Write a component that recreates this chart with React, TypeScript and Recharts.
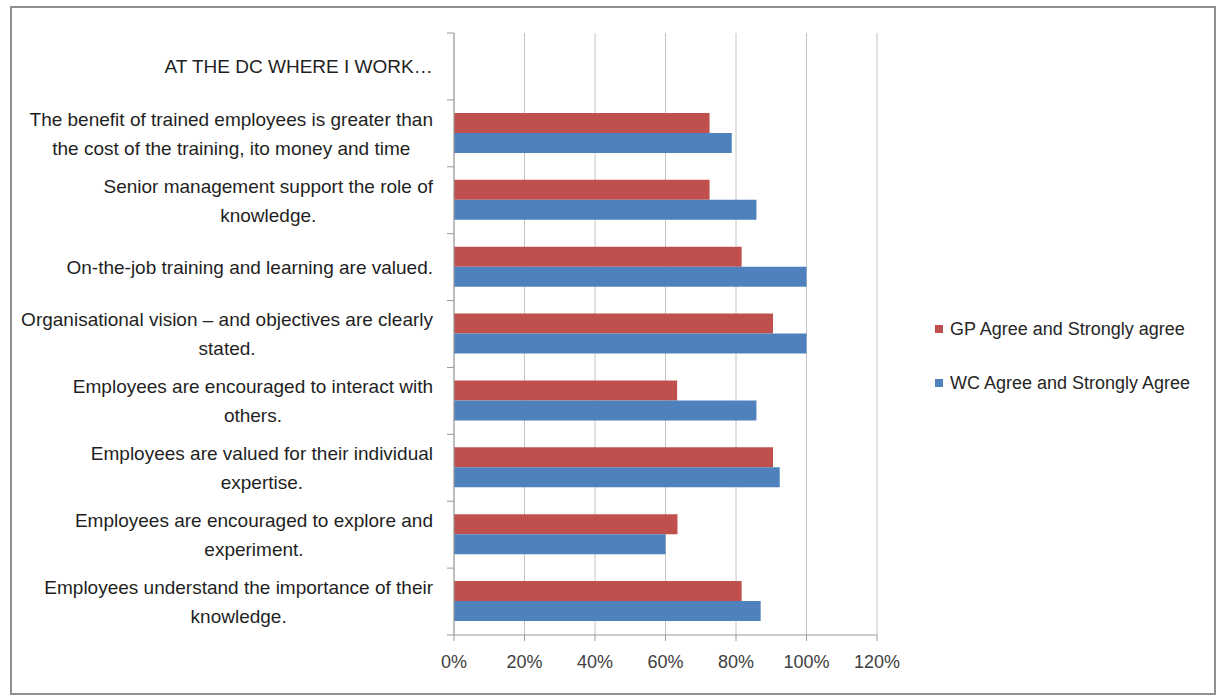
import React from 'react';
import { BarChart, Bar, XAxis, YAxis, CartesianGrid, Legend } from 'recharts';

// categories top to bottom, first row is only a heading (no bars)
const categories = [
  'AT THE DC WHERE I WORK…',
  'The benefit of trained employees is greater than\nthe cost of the training, ito money and time',
  'Senior management support the role of\nknowledge.',
  'On-the-job training and learning are valued.',
  'Organisational vision – and objectives are clearly\nstated.',
  'Employees are encouraged to interact with\nothers.',
  'Employees are valued for their individual\nexpertise.',
  'Employees are encouraged to explore and\nexperiment.',
  'Employees understand the importance of their\nknowledge.',
];

const gpValues = [null, 72.5, 72.5, 81.6, 90.5, 63.3, 90.5, 63.4, 81.6];
const wcValues = [null, 78.8, 85.8, 100, 100, 85.8, 92.4, 60, 87];

const seriesNames = ['GP Agree and Strongly agree', 'WC Agree and Strongly Agree'];
const seriesColors = ['#c0504d', '#4f81bd'];
const xTicks = [0, 20, 40, 60, 80, 100, 120];

const data = categories.map((name, i) => ({ name, gp: gpValues[i], wc: wcValues[i] }));

const FONT = '"Liberation Sans", Arial, sans-serif';
const LABEL_SIZE = 19;
const AXIS_X = 454;
const LABEL_RIGHT = 433;
const PLOT_TOP = 33;
const PLOT_BOTTOM = 635;
const BAND = (PLOT_BOTTOM - PLOT_TOP) / categories.length;

let ctx: CanvasRenderingContext2D | null = null;
function textWidth(t: string) {
  if (!ctx) ctx = document.createElement('canvas').getContext('2d');
  if (!ctx) return t.length * 9;
  ctx.font = `${LABEL_SIZE}px ${FONT}`;
  return ctx.measureText(t).width;
}

const CategoryTick = ({ y, payload, index }: any) => {
  const lines = String(payload.value).split('\n');
  const w = Math.max(...lines.map(textWidth));
  const cx = LABEL_RIGHT - w / 2;
  return (
    <g>
      {index === 0 && (
        <line x1={AXIS_X - 7} x2={AXIS_X} y1={y - BAND / 2} y2={y - BAND / 2} stroke="#9a9a9a" />
      )}
      <line x1={AXIS_X - 7} x2={AXIS_X} y1={y + BAND / 2} y2={y + BAND / 2} stroke="#9a9a9a" />
      <text textAnchor="middle" fontFamily={FONT} fontSize={LABEL_SIZE} fill="#1f1f1f">
        {lines.map((l, i) => (
          <tspan key={i} x={cx} y={y + (i - (lines.length - 1) / 2) * 29} dy="0.36em">
            {l}
          </tspan>
        ))}
      </text>
    </g>
  );
};

const LegendContent = () => (
  <div>
    {seriesNames.map((n, i) => (
      <div key={n} style={{ display: 'flex', alignItems: 'center', height: 54 }}>
        <span style={{ width: 8, height: 8, background: seriesColors[i], marginRight: 7 }} />
        <span style={{ fontFamily: FONT, fontSize: 18, color: '#262626', whiteSpace: 'nowrap' }}>{n}</span>
      </div>
    ))}
  </div>
);

export default function App() {
  return (
    <div style={{ position: 'absolute', left: 0, top: 0, width: 1220, height: 696, background: '#fff' }}>
      <div
        style={{
          position: 'absolute',
          left: 10,
          top: 6,
          width: 1206,
          height: 689,
          border: '2px solid #8f8f8f',
          boxSizing: 'border-box',
        }}
      />
      <div style={{ position: 'absolute', left: 0, top: 0 }}>
        <BarChart
          width={1220}
          height={696}
          data={data}
          layout="vertical"
          barGap={0}
          margin={{ top: PLOT_TOP, right: 343, bottom: 31, left: 0 }}
        >
          <CartesianGrid horizontal={false} stroke="#c4c4c4" />
          <XAxis
            type="number"
            domain={[0, 120]}
            ticks={xTicks}
            interval={0}
            tickFormatter={(v: number) => `${v}%`}
            height={30}
            tickSize={6}
            tickMargin={14}
            axisLine={{ stroke: '#9a9a9a' }}
            tickLine={{ stroke: '#9a9a9a' }}
            tick={{ fontSize: 18, fill: '#404040', fontFamily: FONT }}
          />
          <YAxis
            type="category"
            dataKey="name"
            width={AXIS_X}
            interval={0}
            tickLine={false}
            axisLine={{ stroke: '#9a9a9a' }}
            tick={<CategoryTick />}
          />
          <Bar dataKey="gp" name={seriesNames[0]} fill={seriesColors[0]} barSize={20} isAnimationActive={false} />
          <Bar dataKey="wc" name={seriesNames[1]} fill={seriesColors[1]} barSize={20} isAnimationActive={false} />
          <Legend
            layout="vertical"
            align="center"
            verticalAlign="middle"
            wrapperStyle={{ left: 935, top: 302, width: 285 }}
            content={() => <LegendContent />}
          />
        </BarChart>
      </div>
    </div>
  );
}
